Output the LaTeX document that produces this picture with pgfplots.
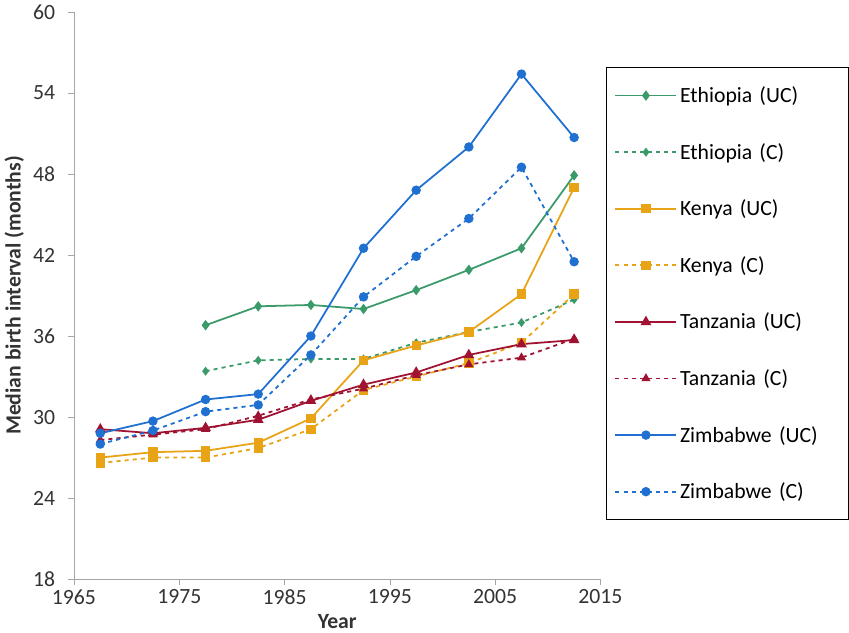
\documentclass[border=0pt]{standalone}
\usepackage{pgfplots}
\pgfplotsset{compat=1.18}
\usepackage{fontspec}
\setmainfont{Carlito}
\definecolor{eth}{RGB}{58,154,106}
\definecolor{ken}{RGB}{232,163,23}
\definecolor{tan}{RGB}{160,18,50}
\definecolor{zim}{RGB}{31,112,208}
\begin{document}
\begin{tikzpicture}
\begin{axis}[
  scale only axis, width=388pt, height=418pt,
  xmin=1965, xmax=2015, ymin=18, ymax=60,
  xtick={1965,1975,...,2015}, ytick={18,24,...,60},
  axis x line*=bottom, axis y line*=left,
  axis line style={draw=gray!70},
  tick style={draw=gray!70}, tick align=outside,
  x tick label style={/pgf/number format/1000 sep={}},
  /pgf/number format/assume math mode=true,
  ticklabel style={font=\fontsize{16}{18}\selectfont, text=black!80},
  yticklabel style={xshift=-6pt},
  xlabel={\textbf{Year}}, ylabel={\textbf{Median birth interval (months)}},
  label style={font=\fontsize{16}{18}\selectfont, text=black!80},
  legend style={at={(rel axis cs:1.01,0.903)}, anchor=north west, draw=black, line width=1pt,
    font=\fontsize{16}{18}\selectfont, row sep=24.5pt, inner xsep=6pt, inner ysep=12pt,
    text width=116pt},
  legend cell align=left,
  legend image code/.code={\draw[#1] (0pt,0pt) -- (45pt,0pt); \draw[#1, solid] plot coordinates {(22.5pt,0pt)};},
  every axis plot/.append style={line width=1.3pt, mark size=2.8pt},
]
\addplot[eth, mark=diamond*] coordinates {(1977.5,36.8)(1982.5,38.2)(1987.5,38.3)(1992.5,38.0)(1997.5,39.4)(2002.5,40.9)(2007.5,42.5)(2012.5,47.9)};
\addlegendentry{Ethiopia (UC)}
\addplot[eth, dashed, mark=diamond*, mark size=2.3pt, mark options={solid}] coordinates {(1977.5,33.4)(1982.5,34.2)(1987.5,34.3)(1992.5,34.3)(1997.5,35.5)(2002.5,36.3)(2007.5,37.0)(2012.5,38.7)};
\addlegendentry{Ethiopia (C)}
\addplot[ken, mark=square*] coordinates {(1967.5,27.0)(1972.5,27.4)(1977.5,27.5)(1982.5,28.1)(1987.5,29.9)(1992.5,34.2)(1997.5,35.3)(2002.5,36.3)(2007.5,39.1)(2012.5,47.0)};
\addlegendentry{Kenya (UC)}
\addplot[ken, dashed, mark=square*, mark options={solid}] coordinates {(1967.5,26.6)(1972.5,27.0)(1977.5,27.0)(1982.5,27.7)(1987.5,29.1)(1992.5,32.0)(1997.5,33.0)(2002.5,34.0)(2007.5,35.5)(2012.5,39.1)};
\addlegendentry{Kenya (C)}
\addplot[tan, mark=triangle*, mark size=3.3pt] coordinates {(1967.5,29.1)(1972.5,28.8)(1977.5,29.2)(1982.5,29.8)(1987.5,31.2)(1992.5,32.4)(1997.5,33.3)(2002.5,34.6)(2007.5,35.4)(2012.5,35.7)};
\addlegendentry{Tanzania (UC)}
\addplot[tan, dashed, mark=triangle*, mark size=2.6pt, mark options={solid}] coordinates {(1967.5,28.3)(1972.5,28.7)(1977.5,29.1)(1982.5,30.1)(1987.5,31.3)(1992.5,32.1)(1997.5,33.1)(2002.5,33.9)(2007.5,34.4)(2012.5,35.8)};
\addlegendentry{Tanzania (C)}
\addplot[zim, mark=*] coordinates {(1967.5,28.8)(1972.5,29.7)(1977.5,31.3)(1982.5,31.7)(1987.5,36.0)(1992.5,42.5)(1997.5,46.8)(2002.5,50.0)(2007.5,55.4)(2012.5,50.7)};
\addlegendentry{Zimbabwe (UC)}
\addplot[zim, dashed, mark=*, mark options={solid}] coordinates {(1967.5,28.0)(1972.5,29.0)(1977.5,30.4)(1982.5,30.9)(1987.5,34.6)(1992.5,38.9)(1997.5,41.9)(2002.5,44.7)(2007.5,48.5)(2012.5,41.5)};
\addlegendentry{Zimbabwe (C)}
\end{axis}
\end{tikzpicture}
\end{document}
